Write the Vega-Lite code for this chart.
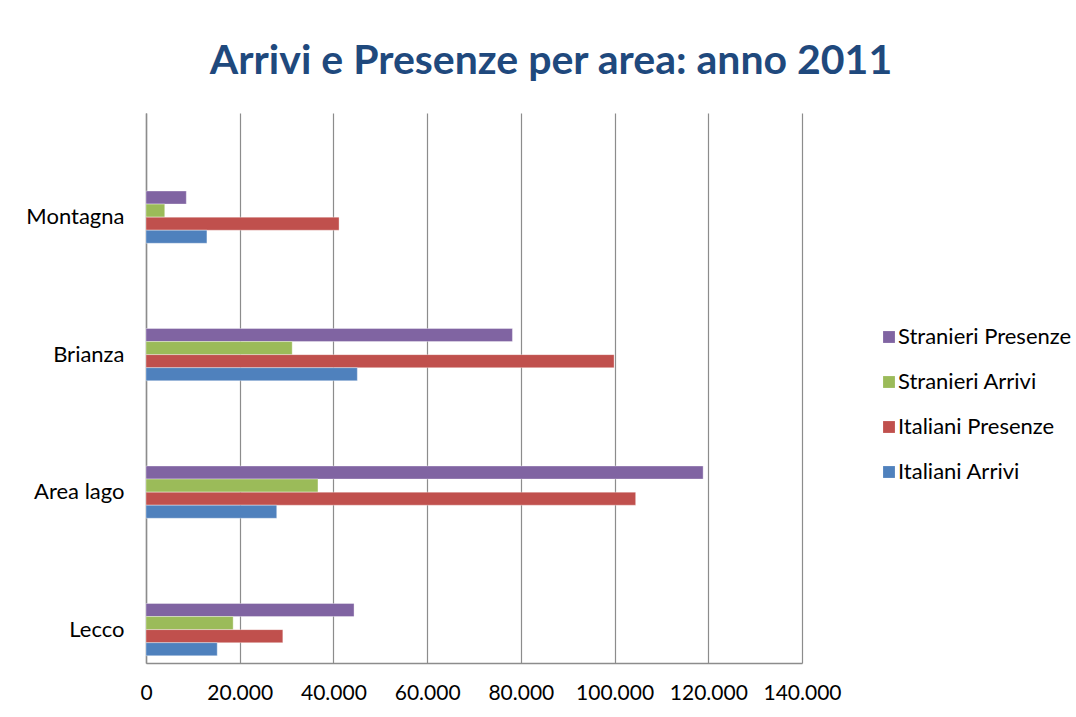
{
  "$schema": "https://vega.github.io/schema/vega-lite/v6.json",
  "width": 656,
  "height": 550,
  "autosize": {"type": "none"},
  "padding": {"left": 146, "top": 113, "right": 274, "bottom": 54},
  "background": "white",
  "title": {
    "text": "Arrivi e Presenze per area: anno 2011",
    "font": "Lato",
    "fontSize": 41,
    "fontWeight": "bold",
    "color": "#1F497D",
    "anchor": "middle",
    "frame": "group",
    "dx": 77,
    "offset": 30
  },
  "data": {
    "values": [
      {"area": "Montagna", "serie": "Stranieri Presenze", "valore": 8600},
      {"area": "Montagna", "serie": "Stranieri Arrivi", "valore": 4000},
      {"area": "Montagna", "serie": "Italiani Presenze", "valore": 41200},
      {"area": "Montagna", "serie": "Italiani Arrivi", "valore": 13000},
      {"area": "Brianza", "serie": "Stranieri Presenze", "valore": 78200},
      {"area": "Brianza", "serie": "Stranieri Arrivi", "valore": 31200},
      {"area": "Brianza", "serie": "Italiani Presenze", "valore": 99900},
      {"area": "Brianza", "serie": "Italiani Arrivi", "valore": 45100},
      {"area": "Area lago", "serie": "Stranieri Presenze", "valore": 118900},
      {"area": "Area lago", "serie": "Stranieri Arrivi", "valore": 36700},
      {"area": "Area lago", "serie": "Italiani Presenze", "valore": 104500},
      {"area": "Area lago", "serie": "Italiani Arrivi", "valore": 27900},
      {"area": "Lecco", "serie": "Stranieri Presenze", "valore": 44400},
      {"area": "Lecco", "serie": "Stranieri Arrivi", "valore": 18600},
      {"area": "Lecco", "serie": "Italiani Presenze", "valore": 29200},
      {"area": "Lecco", "serie": "Italiani Arrivi", "valore": 15200}
    ]
  },
  "mark": {"type": "bar", "strokeWidth": 1, "strokeOpacity": 0.35, "stroke": "white"},
  "encoding": {
    "y": {
      "field": "area",
      "type": "nominal",
      "sort": ["Montagna", "Brianza", "Area lago", "Lecco"],
      "scale": {"paddingInner": 0.62, "paddingOuter": 0.31, "align": 0.915},
      "axis": {
        "title": null,
        "labelFont": "Lato",
        "labelFontSize": 22,
        "labelColor": "black",
        "labelPadding": 22,
        "ticks": false,
        "domainColor": "#8c8c8c",
        "domainWidth": 1.5
      }
    },
    "yOffset": {
      "field": "serie",
      "type": "nominal",
      "sort": ["Stranieri Presenze", "Stranieri Arrivi", "Italiani Presenze", "Italiani Arrivi"],
      "scale": {"paddingInner": 0, "paddingOuter": 0}
    },
    "x": {
      "field": "valore",
      "type": "quantitative",
      "scale": {"domain": [0, 140000], "nice": false},
      "axis": {
        "title": null,
        "values": [0, 20000, 40000, 60000, 80000, 100000, 120000, 140000],
        "labelExpr": "replace(format(datum.value, ','), /,/g, '.')",
        "labelFont": "Lato",
        "labelFontSize": 21,
        "labelColor": "black",
        "labelPadding": 19,
        "ticks": false,
        "grid": true,
        "gridColor": "#8c8c8c",
        "gridWidth": 1.2,
        "domainColor": "#8c8c8c",
        "domainWidth": 1.5,
        "labelFlush": false
      }
    },
    "color": {
      "field": "serie",
      "type": "nominal",
      "sort": ["Stranieri Presenze", "Stranieri Arrivi", "Italiani Presenze", "Italiani Arrivi"],
      "scale": {
        "domain": ["Stranieri Presenze", "Stranieri Arrivi", "Italiani Presenze", "Italiani Arrivi"],
        "range": ["#8064A2", "#9BBB59", "#C0504D", "#4F81BD"]
      },
      "legend": {
        "title": null,
        "orient": "none",
        "legendX": 732,
        "legendY": 213,
        "symbolType": "square",
        "symbolSize": 140,
        "symbolStrokeWidth": 0,
        "labelFont": "Lato",
        "labelFontSize": 22,
        "labelColor": "black",
        "labelOffset": -2,
        "labelLimit": 400,
        "rowPadding": 23
      }
    }
  },
  "config": {
    "view": {"stroke": null}
  }
}
